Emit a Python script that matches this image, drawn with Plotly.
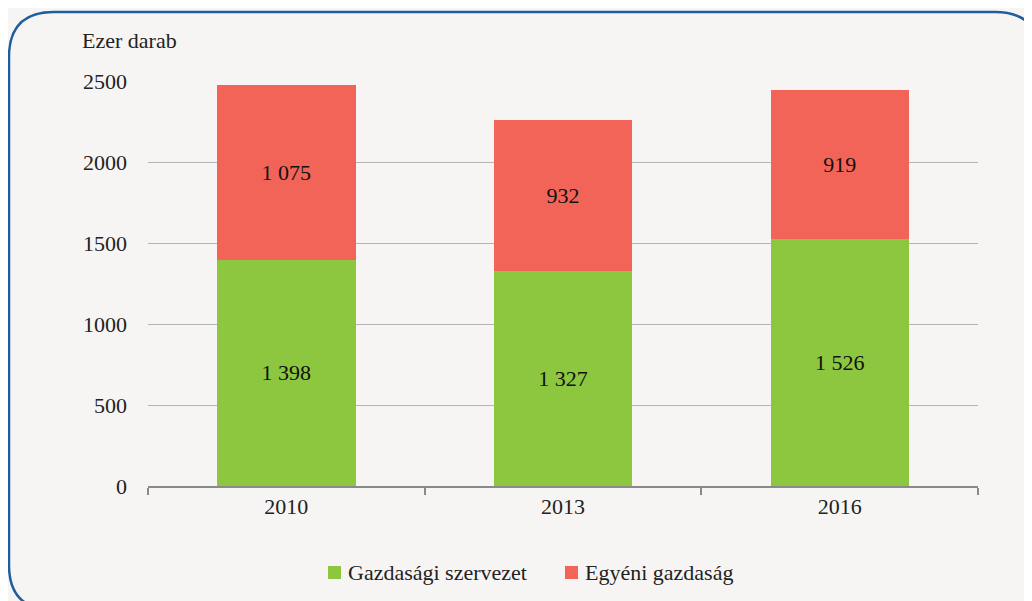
import plotly.graph_objects as go

years = ["2010", "2013", "2016"]
gazdasagi = [1398, 1327, 1526]
egyeni = [1075, 932, 919]
y_ticks = [0, 500, 1000, 1500, 2000, 2500]
series_names = ["Gazdasági szervezet", "Egyéni gazdaság"]

def fmt(v):
    return f"{v:,}".replace(",", " ")

font = '"Liberation Serif", "Times New Roman", serif'
fs = 22
green = "#8DC63F"
red = "#F26458"
bg = "#F7F5F3"

fig = go.Figure()
fig.add_bar(x=years, y=gazdasagi, name=series_names[0], marker_color=green,
            text=[fmt(v) for v in gazdasagi], textposition="inside",
            insidetextanchor="middle", textfont=dict(color="#111", size=fs, family=font),
            width=0.5, marker_line_width=0)
fig.add_bar(x=years, y=egyeni, name=series_names[1], marker_color=red,
            text=[fmt(v) for v in egyeni], textposition="inside",
            insidetextanchor="middle", textfont=dict(color="#111", size=fs, family=font),
            width=0.5, marker_line_width=0)

fig.update_layout(
    barmode="stack",
    width=1032, height=601,
    paper_bgcolor=bg, plot_bgcolor=bg,
    margin=dict(l=140, r=62, t=73, b=123),
    font=dict(family=font, size=fs, color="#222"),
    showlegend=False,
    uniformtext=dict(minsize=10, mode="show"),
)
fig.update_xaxes(showgrid=False, showline=True, linecolor="#8a8a8a", linewidth=2,
                 ticks="outside", tickson="boundaries", ticklen=7, tickcolor="#8a8a8a",
                 tickwidth=2, tickfont=dict(size=fs, family=font, color="#222"))
fig.update_yaxes(range=[0, 2500], tickvals=y_ticks, ticktext=[str(v) for v in y_ticks],
                 showgrid=True, gridcolor="#b4b4b4", gridwidth=1, zeroline=False,
                 showline=False, ticks="", ticklabelstandoff=20,
                 tickfont=dict(size=fs, family=font, color="#222"))

fig.add_annotation(text="Ezer darab", xref="paper", yref="paper", x=-0.082, y=1.101,
                   xanchor="left", yanchor="middle", showarrow=False,
                   font=dict(size=fs, family=font, color="#222"))

# manual legend (pixel offsets from the plot's bottom-left corner)
for name, col, sq_x, txt_x in [(series_names[0], green, 180, 0.2386),
                                (series_names[1], red, 417, 0.5241)]:
    fig.add_shape(type="rect", xref="paper", yref="paper", xsizemode="pixel",
                  ysizemode="pixel", xanchor=0, yanchor=0, x0=sq_x, x1=sq_x + 13,
                  y0=-80, y1=-93, fillcolor=col, line_width=0)
    fig.add_annotation(text=name, xref="paper", yref="paper", x=txt_x, y=-0.2148,
                       xanchor="left", yanchor="middle", showarrow=False,
                       font=dict(size=fs, family=font, color="#222"))

# rounded frame (pixel offsets from the plot's bottom-left corner)
L, T, R, B, r = -139, 474, 892, -124, 45
path = (f"M {L+r},{T} L {R-r},{T} Q {R},{T} {R},{T-r} L {R},{B+r} Q {R},{B} {R-r},{B} "
        f"L {L+r},{B} Q {L},{B} {L},{B+r} L {L},{T-r} Q {L},{T} {L+r},{T} Z")
fig.add_shape(type="path", path=path, xref="paper", yref="paper",
              xsizemode="pixel", ysizemode="pixel", xanchor=0, yanchor=0,
              line=dict(color="#1F5E9C", width=2.5), layer="above")

fig.write_html("out.html")
